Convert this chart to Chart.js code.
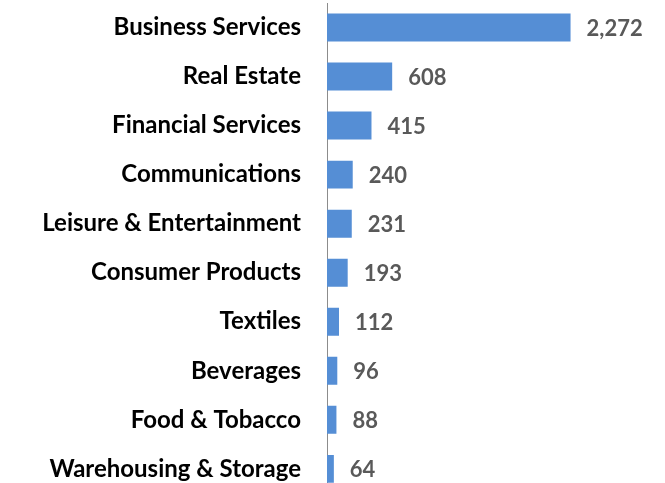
<!DOCTYPE html>
<html lang="en">
<head>
  <meta charset="UTF-8">
  <title>Sectors bar chart</title>
  <script src="https://cdn.jsdelivr.net/npm/chart.js"></script>
  <style>
    html, body { margin: 0; padding: 0; overflow: hidden; background: #fff; }
    #wrap { width: 665px; height: 494px; }
  </style>
</head>
<body>
  <div id="wrap"><canvas id="sectorChart" width="665" height="494"></canvas></div>

  <script>
    // Chart data
    const sectors = ['Business Services', 'Real Estate', 'Financial Services', 'Communications',
      'Leisure & Entertainment', 'Consumer Products', 'Textiles', 'Beverages',
      'Food & Tobacco', 'Warehousing & Storage'];
    const counts = [2272, 608, 415, 240, 231, 193, 112, 96, 88, 64];
    const xMax = 2500;

    const FONT = 'Lato, "Open Sans", sans-serif';

    // draws value labels to the right of each bar
    const valueLabels = {
      id: 'valueLabels',
      afterDatasetsDraw(chart) {
        const ctx = chart.ctx;
        const meta = chart.getDatasetMeta(0);
        ctx.save();
        ctx.font = 'bold 22px ' + FONT;
        ctx.fillStyle = '#595959';
        ctx.textAlign = 'left';
        ctx.textBaseline = 'middle';
        meta.data.forEach((bar, i) => {
          ctx.fillText(counts[i].toLocaleString('en-US'), bar.x + 16, bar.y + 1);
        });
        ctx.restore();
      }
    };

    const ctx = document.getElementById('sectorChart').getContext('2d');
    const chart = new Chart(ctx, {
      type: 'bar',
      data: {
        labels: sectors,
        datasets: [{
          data: counts,
          backgroundColor: '#558ED5',
          barPercentage: 0.57,
          categoryPercentage: 1.0
        }]
      },
      options: {
        indexAxis: 'y',
        responsive: false,
        animation: false,
        layout: { padding: { top: 3, right: 70, bottom: 0, left: 0 } },
        plugins: {
          legend: { display: false },
          tooltip: { enabled: false }
        },
        scales: {
          x: {
            display: false,
            min: 0,
            max: xMax
          },
          y: {
            afterFit(scale) { scale.width = 327; },
            // invisible ticks used as the gap between labels and axis
            grid: { display: true, drawOnChartArea: false, drawTicks: true, tickLength: 26, tickColor: 'rgba(0,0,0,0)' },
            border: { display: true, color: '#8c8c8c', width: 1 },
            ticks: {
              padding: 0,
              color: '#000000',
              // small lineHeight keeps the labels from padding the plot area
              font: { family: FONT, size: 24, weight: 'bold', lineHeight: 0.05 }
            }
          }
        }
      },
      plugins: [valueLabels]
    });
  </script>
</body>
</html>
